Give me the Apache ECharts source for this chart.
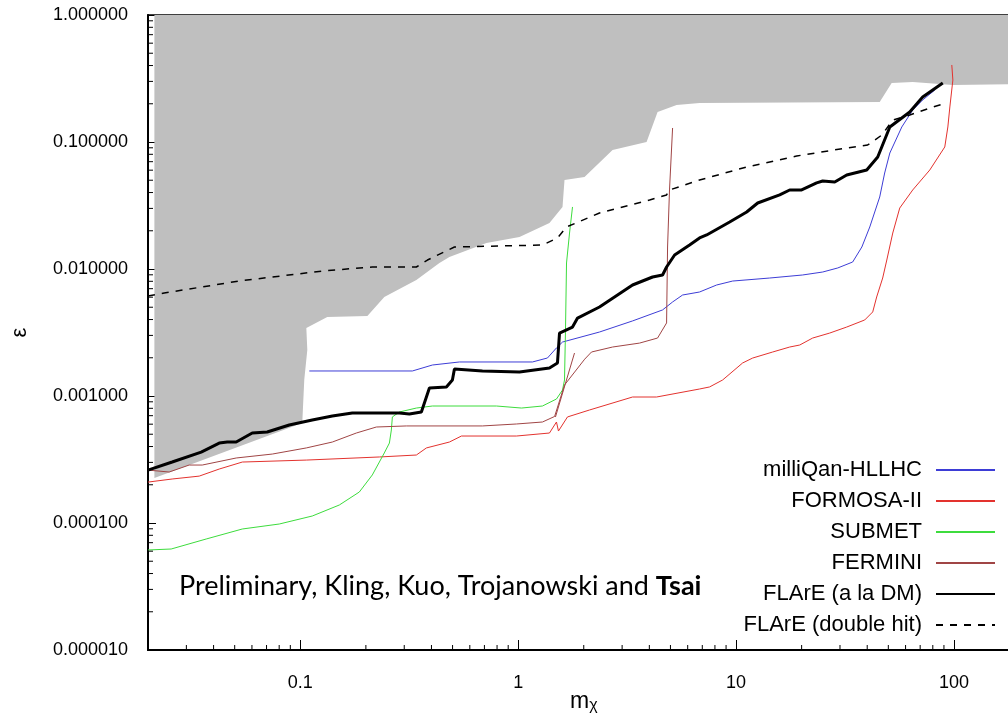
<!DOCTYPE html>
<html><head><meta charset="utf-8">
<script src="https://cdn.jsdelivr.net/npm/echarts@6/dist/echarts.min.js"></script>
<style>html,body{margin:0;padding:0;background:#fff}#c{width:1008px;height:717px}</style>
</head><body><div id="c"></div>
<script>
const xMin = 0.02, xMax = 200, yMin = 1e-5, yMax = 1;
const seriesNames = ['milliQan-HLLHC','FORMOSA-II','SUBMET','FERMINI','FLArE (a la DM)','FLArE (double hit)'];

const excluded = [[0.0214,2.26e-4],[0.1021,6.13e-4],[0.1043,1.34e-3],[0.1077,2.30e-3],[0.1066,3.43e-3],[0.133,4.19e-3],[0.2032,4.26e-3],[0.243,6.02e-3],[0.341,8.19e-3],[0.435,0.01115],[0.4835,0.01243],[0.715,0.01602],[1.014,0.01786],[1.392,0.02303],[1.598,0.03078],[1.632,0.0502],[2.016,0.0530],[2.712,0.0865],[3.885,0.100],[4.364,0.1722],[5.335,0.1955],[6.80,0.2028],[45.65,0.2065],[51.8,0.2914],[64.7,0.2968],[98.9,0.281],[200,0.286]];

const milliQan = [[0.1100,1.574e-3],[0.3269,1.574e-3],[0.4041,1.754e-3],[0.5375,1.853e-3],[1.163,1.853e-3],[1.363,1.992e-3],[1.499,2.39e-3],[1.598,2.66e-3],[2.362,3.19e-3],[3.35,3.90e-3],[4.60,4.76e-3],[5.114,5.50e-3],[5.685,6.24e-3],[6.80,6.59e-3],[8.145,7.48e-3],[9.65,8.04e-3],[14.27,8.49e-3],[20.2,8.97e-3],[25.0,9.47e-3],[29.3,0.01019],[34.3,0.01135],[37.8,0.0149],[41.1,0.02142],[45.65,0.0369],[48.1,0.0570],[50.8,0.0819],[57.65,0.1313],[64.7,0.1786],[71.9,0.2143],[81.7,0.2566]];

const formosa = [[0.02,2.10e-4],[0.02582,2.22e-4],[0.03436,2.34e-4],[0.04246,2.66e-4],[0.0542,3.02e-4],[0.1066,3.13e-4],[0.2306,3.31e-4],[0.341,3.43e-4],[0.3793,3.90e-4],[0.4835,4.34e-4],[0.5491,4.84e-4],[0.982,4.84e-4],[1.392,5.11e-4],[1.499,6.24e-4],[1.531,5.30e-4],[1.684,6.84e-4],[2.126,7.76e-4],[3.35,9.82e-4],[4.318,9.82e-4],[6.80,1.135e-3],[7.56,1.178e-3],[8.68,1.337e-3],[10.72,1.82e-3],[11.92,1.99e-3],[14.73,2.22e-3],[17.63,2.43e-3],[19.6,2.52e-3],[22.48,2.86e-3],[26.9,3.13e-3],[32.2,3.49e-3],[38.97,3.97e-3],[42.4,4.59e-3],[44.2,6.02e-3],[47.1,8.49e-3],[49.2,0.01177],[52.4,0.0192],[56.4,0.0302],[64.7,0.0419],[77.5,0.0602],[90.8,0.0914],[93.8,0.1313],[95.8,0.1887],[98.9,0.3078],[97.8,0.404]];

const submet = [[0.02,6.13e-5],[0.02555,6.24e-5],[0.03699,7.48e-5],[0.0542,8.97e-5],[0.0801,9.82e-5],[0.1135,1.135e-4],[0.1511,1.386e-4],[0.1866,1.754e-4],[0.2141,2.39e-4],[0.243,3.56e-4],[0.2564,4.26e-4],[0.2618,5.40e-4],[0.2646,6.84e-4],[0.2850,7.48e-4],[0.341,8.04e-4],[0.4041,8.34e-4],[0.7947,8.34e-4],[1.036,8.04e-4],[1.293,8.34e-4],[1.499,9.47e-4],[1.598,1.114e-3],[1.632,1.337e-3],[1.649,3.31e-3],[1.667,0.01115],[1.721,0.0192],[1.776,0.0308]];

const fermini = [[0.02,2.61e-4],[0.025,2.52e-4],[0.0309,2.86e-4],[0.03548,2.86e-4],[0.0508,3.25e-4],[0.0744,3.49e-4],[0.1066,3.90e-4],[0.1403,4.34e-4],[0.1808,5.11e-4],[0.2234,5.70e-4],[0.3068,5.81e-4],[0.6855,5.81e-4],[0.982,6.02e-4],[1.293,6.24e-4],[1.47,6.9e-4],[1.632,1.221e-3],[2.02,1.95e-3],[2.171,2.22e-3],[2.712,2.43e-3],[3.607,2.61e-3],[4.364,2.86e-3],[4.80,3.76e-3],[4.85,0.0149],[4.95,0.0419],[5.114,0.1289],'-',[1.483,6.83e-4],[1.814,2.18e-3]];

const flareDM = [[0.02,2.61e-4],[0.02582,3.02e-4],[0.03509,3.62e-4],[0.04246,4.26e-4],[0.04621,4.34e-4],[0.0508,4.34e-4],[0.0602,5.11e-4],[0.0705,5.21e-4],[0.0890,5.91e-4],[0.1135,6.47e-4],[0.1403,6.96e-4],[0.1733,7.35e-4],[0.2306,7.35e-4],[0.2850,7.35e-4],[0.3167,7.22e-4],[0.3596,7.48e-4],[0.3914,1.156e-3],[0.4685,1.178e-3],[0.4991,1.337e-3],[0.5099,1.632e-3],[0.6855,1.574e-3],[1.014,1.545e-3],[1.392,1.662e-3],[1.515,1.82e-3],[1.548,3.13e-3],[1.776,3.49e-3],[1.873,4.11e-3],[2.362,5.02e-3],[3.35,7.48e-3],[4.14,8.65e-3],[4.60,8.97e-3],[4.80,0.01037],[5.224,0.01289],[6.12,0.01545],[6.80,0.01755],[7.33,0.01853],[9.35,0.02346],[11.19,0.02812],[12.57,0.0331],[15.86,0.0383],[17.63,0.0419],[20.0,0.0419],[23.44,0.0476],[24.99,0.0493],[28.38,0.0484],[32.2,0.0550],[39.8,0.0602],[44.7,0.0762],[50.8,0.1313],[62.7,0.1722],[71.9,0.226],[88.9,0.2914]];

const flareDouble = [[0.02,6.13e-3],[0.02373,6.47e-3],[0.05245,8.04e-3],[0.1262,9.64e-3],[0.2141,0.01037],[0.341,0.01037],[0.3833,0.01177],[0.5099,0.0149],[1.293,0.01545],[1.515,0.01755],[1.667,0.02142],[2.362,0.0276],[4.01,0.0349],[4.80,0.0383],[4.95,0.0419],[6.80,0.0502],[11.19,0.0636],[18.98,0.0776],[32.2,0.0897],[40.2,0.0947],[46.7,0.1135],[52.4,0.149],[62.7,0.163],[80.0,0.1887],[92.8,0.2028]];

const xMinorTicks = [0.03,0.04,0.05,0.06,0.07,0.08,0.09,0.2,0.3,0.4,0.5,0.6,0.7,0.8,0.9,2,3,4,5,6,7,8,9,20,30,40,50,60,70,80,90];
const yMinorTicks = [];
[1e-5,1e-4,1e-3,1e-2,1e-1].forEach(d => { for (let k = 2; k <= 9; k++) yMinorTicks.push(+(d*k).toPrecision(3)); });
const annotation = ['Preliminary, Kling, Kuo, Trojanowski and ', 'Tsai'];

const colors = ['#3d3dd6','#e3322e','#3ddc3d','#a04545','#000000','#000000'];
const FONT = '"Liberation Sans", Arial, sans-serif';

function line(name, data, color, width, type, z) {
  return { name, type: 'line', data, symbol: 'none', showSymbol: false, z: z || 3,
    lineStyle: { color, width, type: type || 'solid' }, itemStyle: { color }, animation: false, connectNulls: false };
}
function tickSeries(vals, isX) {
  return {
    type: 'custom', silent: true, z: 10, clip: false, animation: false,
    data: vals.map(v => isX ? [v, yMin] : [xMin, v]),
    renderItem: (params, api) => {
      const p = api.coord([api.value(0), api.value(1)]);
      return { type: 'line', shape: isX ? { x1: p[0], y1: p[1], x2: p[0], y2: p[1] - 5 } : { x1: p[0], y1: p[1], x2: p[0] + 5, y2: p[1] },
        style: { stroke: '#000', lineWidth: 1 } };
    }
  };
}

const chart = echarts.init(document.getElementById('c'), null, { renderer: 'canvas' });
chart.setOption({
  animation: false,
  backgroundColor: '#fff',
  grid: { left: 148, top: 15, bottom: 67, right: -11.5, containLabel: false, outerBoundsMode: 'none',
    show: true, borderColor: '#000', borderWidth: 1.5, backgroundColor: 'transparent' },
  xAxis: {
    type: 'log', min: xMin, max: xMax, logBase: 10,
    name: '{m|m}{s|χ}', nameLocation: 'middle', nameGap: 39, nameMoveOverlap: false,
    nameTextStyle: { rich: { m: { fontFamily: FONT, fontSize: 23, color: '#000' }, s: { fontFamily: FONT, fontSize: 16, color: '#000', verticalAlign: 'bottom', padding: [9, 0, 0, 0] } } },
    axisLine: { lineStyle: { color: '#000', width: 2 } },
    axisTick: { inside: true, length: 10, lineStyle: { color: '#000', width: 1 } },
    axisLabel: { showMinLabel: false, showMaxLabel: false, margin: 24, fontFamily: FONT, fontSize: 18, color: '#000',
      formatter: v => String(Number(v.toPrecision(6))) },
    splitLine: { show: false }
  },
  yAxis: {
    type: 'log', min: yMin, max: yMax, logBase: 10,
    name: 'ε', nameLocation: 'middle', nameGap: 117, nameRotate: 90, nameMoveOverlap: false,
    nameTextStyle: { fontFamily: FONT, fontSize: 22, color: '#000' },
    axisLine: { lineStyle: { color: '#000', width: 2 } },
    axisTick: { inside: true, length: 8, lineStyle: { color: '#000', width: 1 } },
    axisLabel: { margin: 20, fontFamily: FONT, fontSize: 18, color: '#000', formatter: v => v.toFixed(6) },
    splitLine: { show: false }
  },
  legend: {
    data: seriesNames, orient: 'vertical', align: 'right', right: 12, top: 459, padding: 0,
    itemWidth: 59, itemHeight: 14, itemGap: 9, selectedMode: false,
    itemStyle: { opacity: 0 },
    textStyle: { fontFamily: FONT, fontSize: 22, color: '#000', padding: [0, 9, 0, 0] }
  },
  graphic: [{
    type: 'text', left: 179, top: 573, z: 20,
    style: { text: '{n|' + annotation[0] + '}{b|' + annotation[1] + '}',
      rich: { n: { fontFamily: 'Lato, "Open Sans", sans-serif', fontSize: 27, fill: '#000' },
              b: { fontFamily: 'Lato, "Open Sans", sans-serif', fontSize: 27, fontWeight: 'bold', fill: '#000' } } }
  }],
  series: [
    { name: 'excluded', type: 'line', data: excluded, symbol: 'none', z: 1, animation: false,
      lineStyle: { width: 0, color: '#bfbfbf' }, areaStyle: { color: '#bfbfbf', origin: 'end', opacity: 1 } },
    line(seriesNames[0], milliQan, colors[0], 1),
    line(seriesNames[1], formosa, colors[1], 1),
    line(seriesNames[2], submet, colors[2], 1),
    line(seriesNames[3], fermini, colors[3], 1),
    line(seriesNames[5], flareDouble, colors[5], 1.5, [7, 7], 4),
    line(seriesNames[4], flareDM, colors[4], 3, 'solid', 5),
    tickSeries(xMinorTicks, true),
    tickSeries(yMinorTicks, false)
  ]
});
</script>
</body></html>
